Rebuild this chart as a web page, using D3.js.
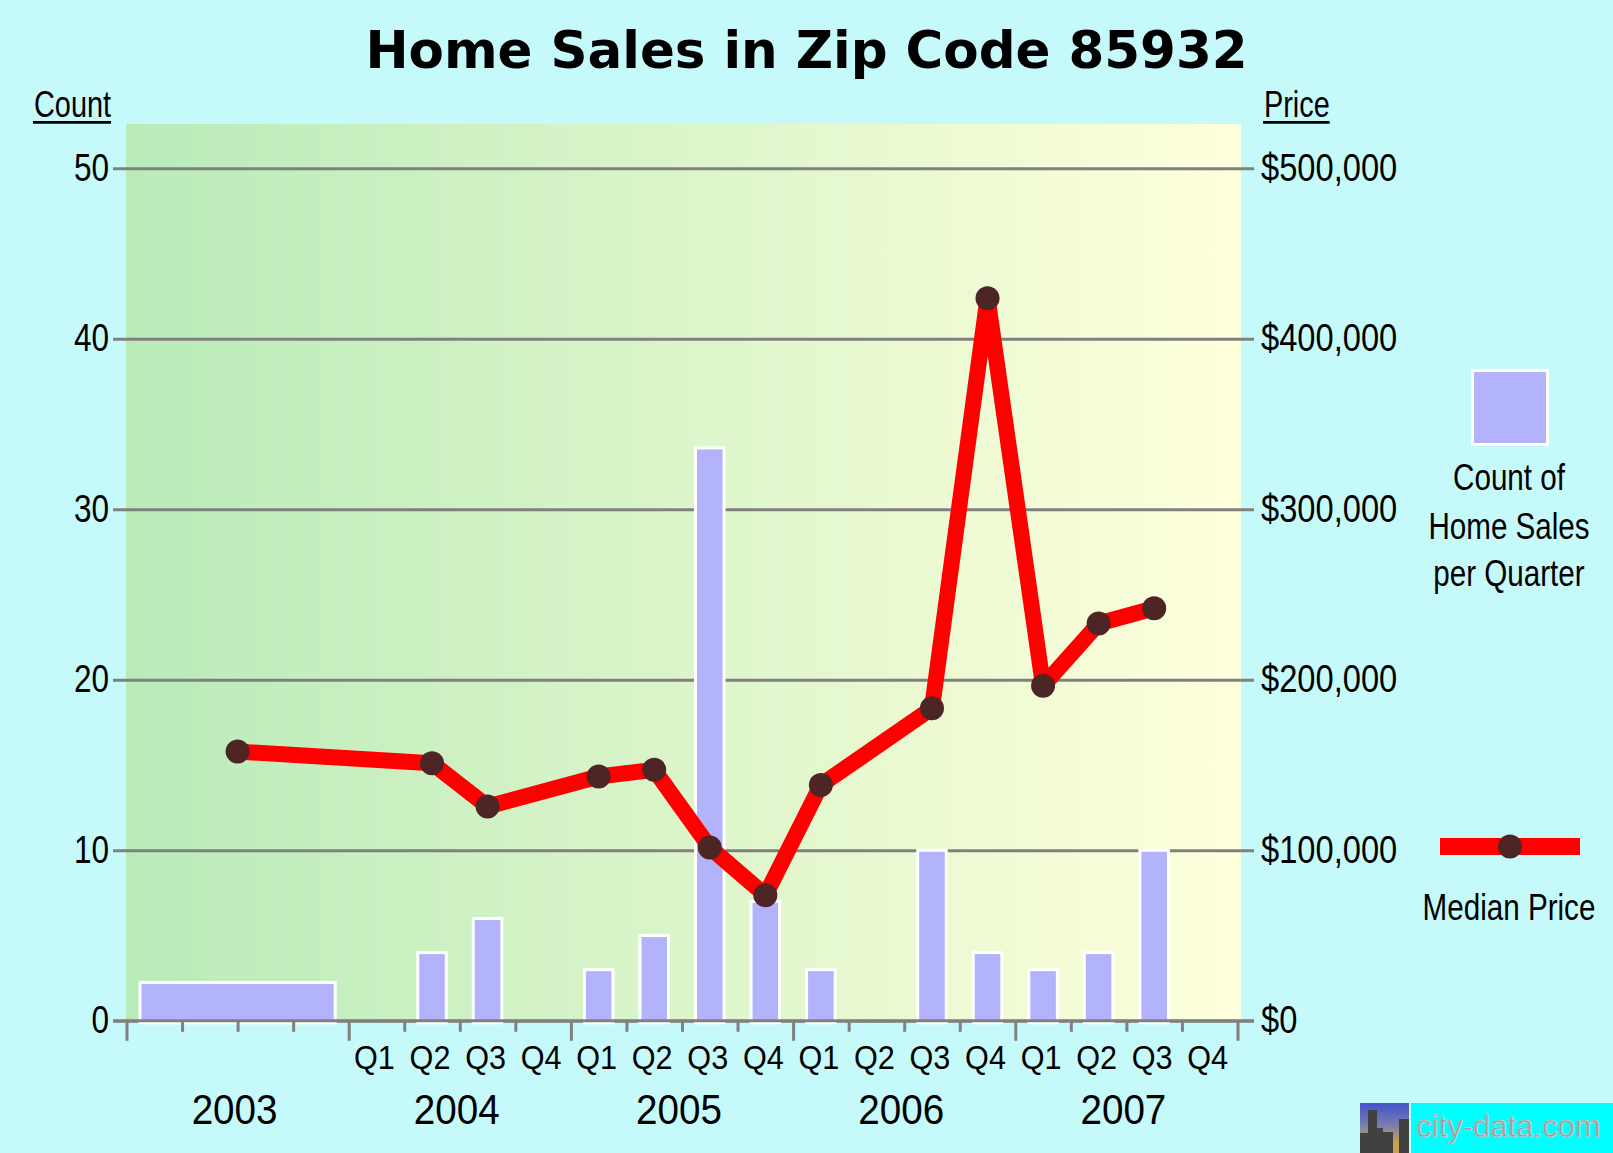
<!DOCTYPE html>
<html>
<head>
<meta charset="utf-8">
<script src="https://cdn.jsdelivr.net/npm/d3@7"></script>
<style>
	body { margin: 0; background: #c6fafa; overflow: hidden; }
	svg { display: block; }
</style>
</head>
<body>
<svg id="svg_main" width="1613" height="1153"></svg>
<script>
// periods: 2003 is one yearly value, the rest are quarters
var periods = ["2003",
	"2004 Q1", "2004 Q2", "2004 Q3", "2004 Q4",
	"2005 Q1", "2005 Q2", "2005 Q3", "2005 Q4",
	"2006 Q1", "2006 Q2", "2006 Q3", "2006 Q4",
	"2007 Q1", "2007 Q2", "2007 Q3", "2007 Q4"];
var salesCount = [2.25, 0, 4, 6, 0, 3, 5, 33.6, 7, 3, 0, 10, 4, 3, 4, 10, 0];
var medianPrice = [157900, null, 151100, 125700, null, 143300, 147200, 101700, 73600,
	138300, null, 183300, 423800, 196500, 233000, 242000, null];
var years = ["2003", "2004", "2005", "2006", "2007"];
var quarterNames = ["Q1", "Q2", "Q3", "Q4"];
var countTicks = [0, 10, 20, 30, 40, 50];
var priceTicks = [0, 100000, 200000, 300000, 400000, 500000];

var sans = "'Liberation Sans', Arial, sans-serif";

// no narrow face installed, so squeeze the glyphs horizontally around their anchor
function squeeze(sel, f) {
	sel.each(function() {
		let x0 = +(this.getAttribute("x") || 0);
		d3.select(this)
			.attr("transform", `translate(${x0}, 0) scale(${f}, 1) translate(${-x0}, 0)`);
	});
}

var svg = d3.select("#svg_main");

var plot = { left: 126, right: 1241, top: 124, bottom: 1021 },
	lineLeft = 113, lineRight = 1254;

// quarter slots: 0..20, 2003 takes the first four
var x = d3.scaleLinear().domain([0, 20]).range([126.5, 1237.5]);
var yCount = d3.scaleLinear().domain([0, 50]).range([1020.8, 168.3]);
var yPrice = d3.scaleLinear().domain([0, 500000]).range([1020.8, 168.3]);

function slot(i) { return i == 0 ? 0 : i + 3; }
function span(i) { return i == 0 ? 4 : 1; }

var data = periods.map((p, i) => {
	return { period: p, count: salesCount[i], price: medianPrice[i], start: slot(i), len: span(i) };
});

// background gradient
var defs = svg.append("defs");
var grad = defs.append("linearGradient")
	.attr("id", "plotbg")
	.attr("x1", "0%").attr("x2", "100%")
	.attr("y1", "0%").attr("y2", "0%");
grad.append("stop").attr("offset", "0%").attr("stop-color", "#b9ebb9");
grad.append("stop").attr("offset", "100%").attr("stop-color", "#ffffdd");

var logoGrad = defs.append("linearGradient")
	.attr("id", "logobg")
	.attr("x1", "0%").attr("x2", "0%")
	.attr("y1", "0%").attr("y2", "100%");
logoGrad.append("stop").attr("offset", "0%").attr("stop-color", "#4252cc");
logoGrad.append("stop").attr("offset", "45%").attr("stop-color", "#7a7fb0");
logoGrad.append("stop").attr("offset", "80%").attr("stop-color", "#c9a24a");

svg.append("rect")
	.attr("x", plot.left)
	.attr("y", plot.top)
	.attr("width", plot.right - plot.left)
	.attr("height", plot.bottom - plot.top)
	.attr("fill", "url(#plotbg)");

// title
svg.append("text")
	.attr("x", 806.5)
	.attr("y", 68)
	.attr("text-anchor", "middle")
	.attr("font-family", "'DejaVu Sans', Verdana, sans-serif")
	.attr("font-weight", "bold")
	.attr("font-size", "51.5px")
	.attr("fill", "#000")
	.text("Home Sales in Zip Code 85932");

// axis titles with underline
[["Count", 34], ["Price", 1264]].forEach(d => {
	let t = svg.append("text")
		.attr("x", d[1])
		.attr("y", 117)
		.attr("font-family", sans)
		.attr("font-size", "37px")
		.attr("fill", "#000")
		.text(d[0])
		.call(squeeze, 0.78);
	let w = t.node().getComputedTextLength() * 0.78;
	svg.append("line")
		.attr("x1", d[1] - 1)
		.attr("x2", d[1] + w)
		.attr("y1", 122.3)
		.attr("y2", 122.3)
		.attr("stroke", "#000")
		.attr("stroke-width", 2.7);
});

// gridlines + left labels
var yAxis = d3.axisLeft(yCount)
	.tickValues(countTicks)
	.tickSize(-(lineRight - lineLeft))
	.tickPadding(4)
	.tickFormat(d3.format("d"));
svg.append("g")
	.attr("class", "yAxis")
	.attr("transform", `translate(${lineLeft}, 0)`)
	.call(yAxis)
	.call(g => g.select(".domain").remove())
	.call(g => g.selectAll(".tick line").attr("stroke", "#808080").attr("stroke-width", 3))
	.call(g => g.selectAll(".tick text")
		.attr("font-family", sans)
		.attr("font-size", "38px")
		.attr("fill", "#000")
		.call(squeeze, 0.83));

var yAxisRight = d3.axisRight(yPrice)
	.tickValues(priceTicks)
	.tickSize(0)
	.tickPadding(7)
	.tickFormat(d3.format("$,"));
svg.append("g")
	.attr("class", "yAxisRight")
	.attr("transform", `translate(${lineRight}, 0)`)
	.call(yAxisRight)
	.call(g => g.select(".domain").remove())
	.call(g => g.selectAll(".tick text")
		.attr("font-family", sans)
		.attr("font-size", "38px")
		.attr("fill", "#000")
		.call(squeeze, 0.86));

// bars
svg.selectAll(".bar")
	.data(data.filter(d => d.count > 0))
	.enter().append("rect")
	.attr("class", "bar")
	.attr("x", d => x(d.start) + 13.5)
	.attr("width", d => x(d.start + d.len) - x(d.start) - 27)
	.attr("y", d => yCount(d.count))
	.attr("height", d => yCount(0) - yCount(d.count) + 2)
	.attr("fill", "#b3b3fb")
	.attr("stroke", "#fff")
	.attr("stroke-width", 3);

// x axis line and ticks
svg.append("line")
	.attr("x1", lineLeft)
	.attr("x2", lineRight)
	.attr("y1", yCount(0))
	.attr("y2", yCount(0))
	.attr("stroke", "#808080")
	.attr("stroke-width", 3);

var xAxis = d3.axisBottom(x)
	.tickValues(d3.range(0, 21))
	.tickSize(11)
	.tickFormat("");
svg.append("g")
	.attr("class", "xAxis")
	.attr("transform", `translate(0, ${yCount(0)})`)
	.call(xAxis)
	.call(g => g.select(".domain").remove())
	.call(g => g.selectAll(".tick line")
		.attr("stroke", "#808080")
		.attr("stroke-width", 3)
		.attr("y2", d => d % 4 == 0 ? 20 : 11));

// quarter labels (2004 onward) and year labels
var labels = svg.append("g").attr("class", "labels");
for (let yi = 1; yi < years.length; yi++) {
	quarterNames.forEach((q, qi) => {
		labels.append("text")
			.attr("class", "qlabel")
			.attr("x", x(yi * 4 + qi + 0.5) - 2)
			.attr("y", 1069)
			.attr("text-anchor", "middle")
			.attr("font-family", sans)
			.attr("font-size", "34px")
			.attr("fill", "#000")
			.text(q);
	});
}
labels.selectAll(".qlabel").call(squeeze, 0.9);
years.forEach((yr, yi) => {
	labels.append("text")
		.attr("class", "ylabel")
		.attr("x", x(yi * 4 + 2) - 3)
		.attr("y", 1124)
		.attr("text-anchor", "middle")
		.attr("font-family", sans)
		.attr("font-size", "42px")
		.attr("fill", "#000")
		.text(yr);
});
labels.selectAll(".ylabel").call(squeeze, 0.92);

// median price line
var priced = data.filter(d => d.price != null);
var line = d3.line()
	.x(d => x(d.start + d.len / 2))
	.y(d => yPrice(d.price));
svg.append("path")
	.datum(priced)
	.attr("d", line)
	.attr("fill", "none")
	.attr("stroke", "#ff0000")
	.attr("stroke-width", 16)
	.attr("stroke-linejoin", "round");
svg.selectAll(".pt")
	.data(priced)
	.enter().append("circle")
	.attr("class", "pt")
	.attr("cx", d => x(d.start + d.len / 2))
	.attr("cy", d => yPrice(d.price))
	.attr("r", 12)
	.attr("fill", "#4d2525");

// legend
var legend = svg.append("g").attr("class", "legend");
legend.append("rect")
	.attr("x", 1472.5)
	.attr("y", 370.5)
	.attr("width", 75)
	.attr("height", 74)
	.attr("fill", "#b3b3fb")
	.attr("stroke", "#fff")
	.attr("stroke-width", 3);
[["Count of", 490], ["Home Sales", 539], ["per Quarter", 586], ["Median Price", 920]].forEach(d => {
	legend.append("text")
		.attr("class", "ltext")
		.attr("x", 1509)
		.attr("y", d[1])
		.attr("text-anchor", "middle")
		.attr("font-family", sans)
		.attr("font-size", "37px")
		.attr("fill", "#000")
		.text(d[0]);
});
legend.selectAll(".ltext").call(squeeze, 0.8);
legend.append("rect")
	.attr("x", 1440)
	.attr("y", 838)
	.attr("width", 140)
	.attr("height", 17)
	.attr("fill", "#ff0000");
legend.append("circle")
	.attr("cx", 1510)
	.attr("cy", 846.5)
	.attr("r", 12)
	.attr("fill", "#4d2525");

// city-data logo
var logo = svg.append("g").attr("class", "logo");
logo.append("rect")
	.attr("x", 1360).attr("y", 1103)
	.attr("width", 49).attr("height", 50)
	.attr("fill", "url(#logobg)");
[[1360, 1133, 8], [1368, 1110, 9], [1377, 1128, 6], [1383, 1132, 10], [1399, 1119, 10]].forEach(b => {
	logo.append("rect")
		.attr("x", b[0]).attr("y", b[1])
		.attr("width", b[2]).attr("height", 1153 - b[1])
		.attr("fill", "#414141");
});
logo.append("rect")
	.attr("x", 1411).attr("y", 1103)
	.attr("width", 202).attr("height", 50)
	.attr("fill", "#00ffff");
logo.append("text")
	.attr("x", 1416)
	.attr("y", 1137)
	.attr("font-family", sans)
	.attr("font-size", "32px")
	.attr("fill", "#9c9c9c")
	.attr("stroke", "#d8d8d8")
	.attr("stroke-width", 0.6)
	.text("city-data.com")
	.call(squeeze, 0.97);
</script>
</body>
</html>
